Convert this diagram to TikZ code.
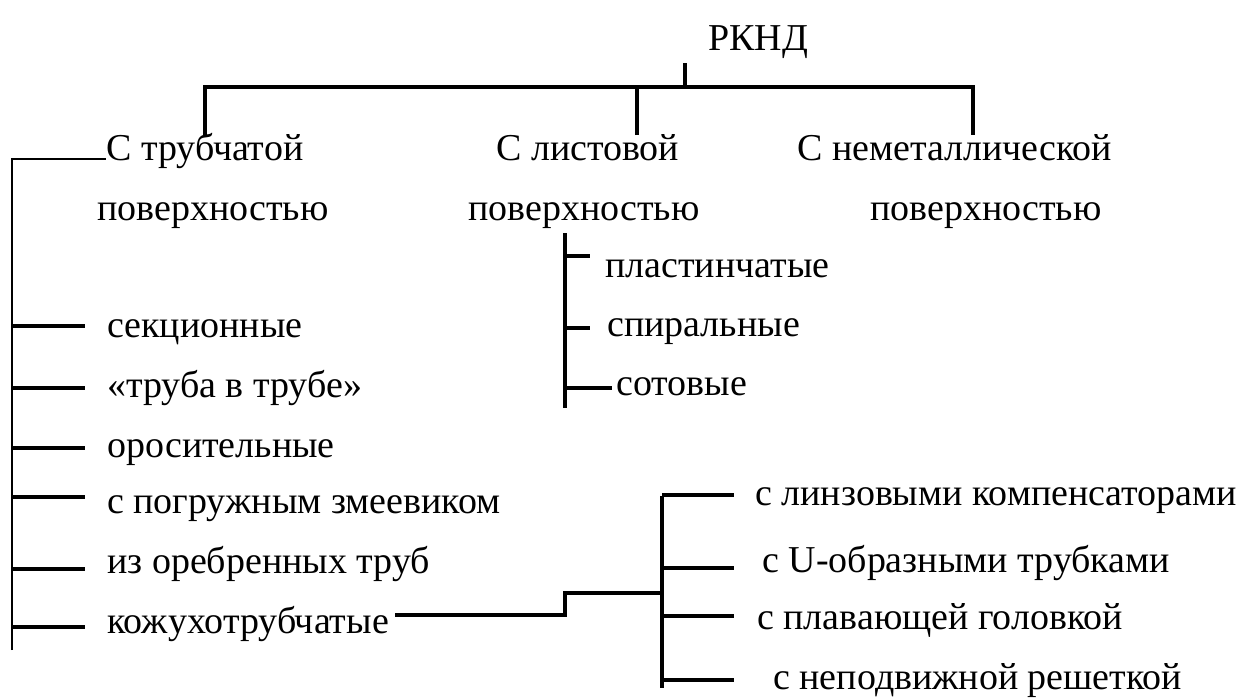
\documentclass[tikz,border=0pt]{standalone}
\usepackage{fontspec}
\setmainfont{Liberation Serif}
\usetikzlibrary{positioning,calc}

\begin{document}
\begin{tikzpicture}[
    x=0.025cm, y=-0.025cm,
    item/.style={anchor=base west, inner sep=0pt, font=\fontsize{27}{33}\selectfont},
    link/.style={line width=2.2pt},
    bus/.style={line width=1.6pt}
]
\useasboundingbox (0,0) rectangle (1240,697);

% Root
\node[item] (rknd) at (708,50) {РКНД};
\coordinate (stub) at (685,63);
\coordinate (hub) at (685,87);

% Surface types
\node[item] (tub1) at (106,160) {С трубчатой};
\node[item] (tub2) at (97,220) {поверхностью};
\node[item] (list1) at (496,160) {С листовой};
\node[item] (list2) at (468,220) {поверхностью};
\node[item] (nem1) at (797,160) {С неметаллической};
\node[item] (nem2) at (870,220) {поверхностью};

\coordinate (tubtop) at (205,135);
\coordinate (listtop) at (637,135);
\coordinate (nemtop) at (973,135);

% Tubular
\node[item] (sek) at (107,337) {секционные};
\node[item] (tvt) at (107,397) {«труба в трубе»};
\node[item] (oros) at (107,457) {оросительные};
\node[item] (zmeev) at (107,513) {с погружным змеевиком};
\node[item] (oreb) at (107,573) {из оребренных труб};
\node[item] (kozh) at (107,633) {кожухотрубчатые};
\coordinate (lbus) at (12,159);
\coordinate (lbusend) at (12,650);

% Sheet
\node[item] (plast) at (605,277) {пластинчатые};
\node[item] (spir) at (607,336) {спиральные};
\node[item] (sot) at (616,395) {сотовые};
\coordinate (mbus) at (565,233);
\coordinate (mbusend) at (565,408);

% Shell-and-tube
\node[item] (linz) at (755,505) {с линзовыми компенсаторами};
\node[item] (uobr) at (762,572) {с U-образными трубками};
\node[item] (plav) at (757,629) {с плавающей головкой};
\node[item] (nepod) at (773,689) {с неподвижной решеткой};
\coordinate (rbus) at (662,496);
\coordinate (rbusend) at (662,688);
\coordinate (kstep) at (565,593);

% Branch ends
\foreach \n/\dy in {sek/-11, tvt/-9, oros/-9, zmeev/-16, oreb/-4, kozh/-6}
    \coordinate (\n-l) at ($(\n.base west)+(-22,\dy)$);
\foreach \n/\dy/\dx in {plast/-21/-15, spir/-8/-17, sot/-7/-4}
    \coordinate (\n-l) at ($(\n.base west)+(\dx,\dy)$);
\foreach \n/\dy in {linz/-10, uobr/-4, plav/-13, nepod/-9}
    \coordinate (\n-l) at ($(rbus |- \n.base)+(72,\dy)$);

% Arrows
\draw[link] (stub) -- (hub);
\draw[link] (tubtop) -- (tubtop |- hub) -- (nemtop |- hub) -- (nemtop);
\draw[link] (listtop) -- (listtop |- hub);

\draw[bus] (lbusend) -- (lbus) -- ($(tub1.base west)+(0,-1)$);
\foreach \n in {sek, tvt, oros, zmeev, oreb, kozh}
    \draw[link] (lbus |- \n-l) -- (\n-l);

\draw[link] (mbus) -- (mbusend);
\foreach \n in {plast, spir, sot}
    \draw[link] (mbus |- \n-l) -- (\n-l);

\draw[link] ($(kozh.base east)+(6,-18)$) -| (kstep) -- (kstep -| rbus);
\draw[link] (rbus) -- (rbusend);
\foreach \n in {linz, uobr, plav, nepod}
    \draw[link] (rbus |- \n-l) -- (\n-l);
\end{tikzpicture}
\end{document}
